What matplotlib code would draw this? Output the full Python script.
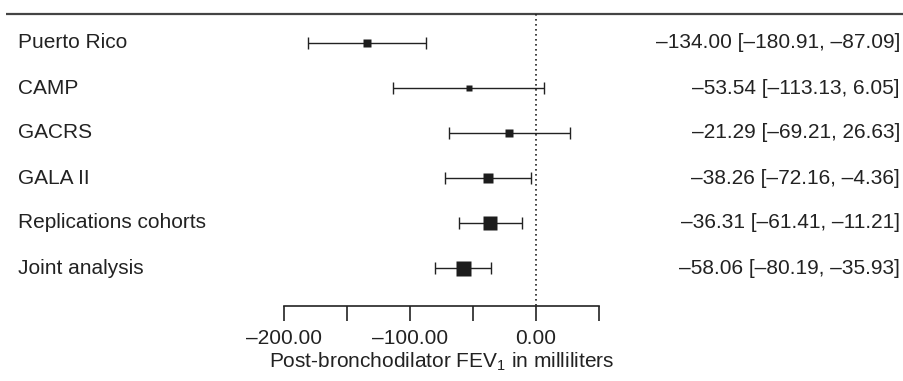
import matplotlib
matplotlib.use('Agg')
import matplotlib.pyplot as plt

plt.rcParams['font.family'] = ['Liberation Sans', 'DejaVu Sans']
plt.rcParams['mathtext.default'] = 'regular'

# data
studies = ['Puerto Rico', 'CAMP', 'GACRS', 'GALA II', 'Replications cohorts', 'Joint analysis']
estimate = [-134.00, -53.54, -21.29, -38.26, -36.31, -58.06]
ci_low = [-180.91, -113.13, -69.21, -72.16, -61.41, -80.19]
ci_high = [-87.09, 6.05, 26.63, -4.36, -11.21, -35.93]
weight_px = [8, 6, 8, 10, 14.5, 15]  # marker side in pixels
ticks = [-200, -150, -100, -50, 0, 50]
tick_labels = {-200: '\u2212200.00', -100: '\u2212100.00', 0: '0.00'}

# layout in pixels (figure 904 x 381 at 100 dpi)
W, H = 904, 381
zero_px, scale = 536, 1.26
row0, row_step = 43, 45
top_y, axis_y, tick_len = 14, 306, 15
ink = '#222222'

fig = plt.figure(figsize=(W / 100, H / 100), dpi=100)
ax = fig.add_axes([0, 0, 1, 1])
ax.set_xlim(-zero_px / scale, (W - zero_px) / scale)
ax.set_ylim(H, 0)
ax.axis('off')

tr = ax.get_yaxis_transform()

# top rule
ax.plot([6 / W, 1], [top_y, top_y], transform=tr, color='#444444', lw=1.6,
        solid_capstyle='butt')
# null line
ax.plot([0, 0], [top_y, axis_y], color=ink, lw=1.2, ls=(0, (1, 2)))

for i, name in enumerate(studies):
    y = row0 + row_step * i
    ax.errorbar(estimate[i], y, xerr=[[estimate[i] - ci_low[i]], [ci_high[i] - estimate[i]]],
                fmt='none', ecolor=ink, elinewidth=1.0, capsize=4.3, capthick=1.0)
    ax.plot(estimate[i], y, marker='s', ms=weight_px[i] * 0.72, color='#1c1c1c',
            mec='none', ls='none', zorder=3)
    ax.text(18 / W, y, name, transform=tr, ha='left', va='center',
            fontsize=15, color=ink)
    txt = f'{estimate[i]:.2f} [{ci_low[i]:.2f}, {ci_high[i]:.2f}]'.replace('-', '\u2013')
    ax.text(900 / W, y, txt, transform=tr, ha='right', va='center',
            fontsize=15, color=ink)

# x axis drawn by hand
ax.plot([ticks[0], ticks[-1]], [axis_y, axis_y], color=ink, lw=1.2)
ax.vlines(ticks, axis_y, axis_y + tick_len, color=ink, lw=1.2)
for t, lab in tick_labels.items():
    ax.text(t, 338, lab.replace('\u2212', '\u2013'), ha='center', va='center',
            fontsize=15, color=ink)
ax.text((ticks[0] + ticks[-1]) / 2, 362, 'Post-bronchodilator FEV$_1$ in milliliters',
        ha='center', va='center', fontsize=15, color=ink)

fig.savefig('out.png', dpi=100)
